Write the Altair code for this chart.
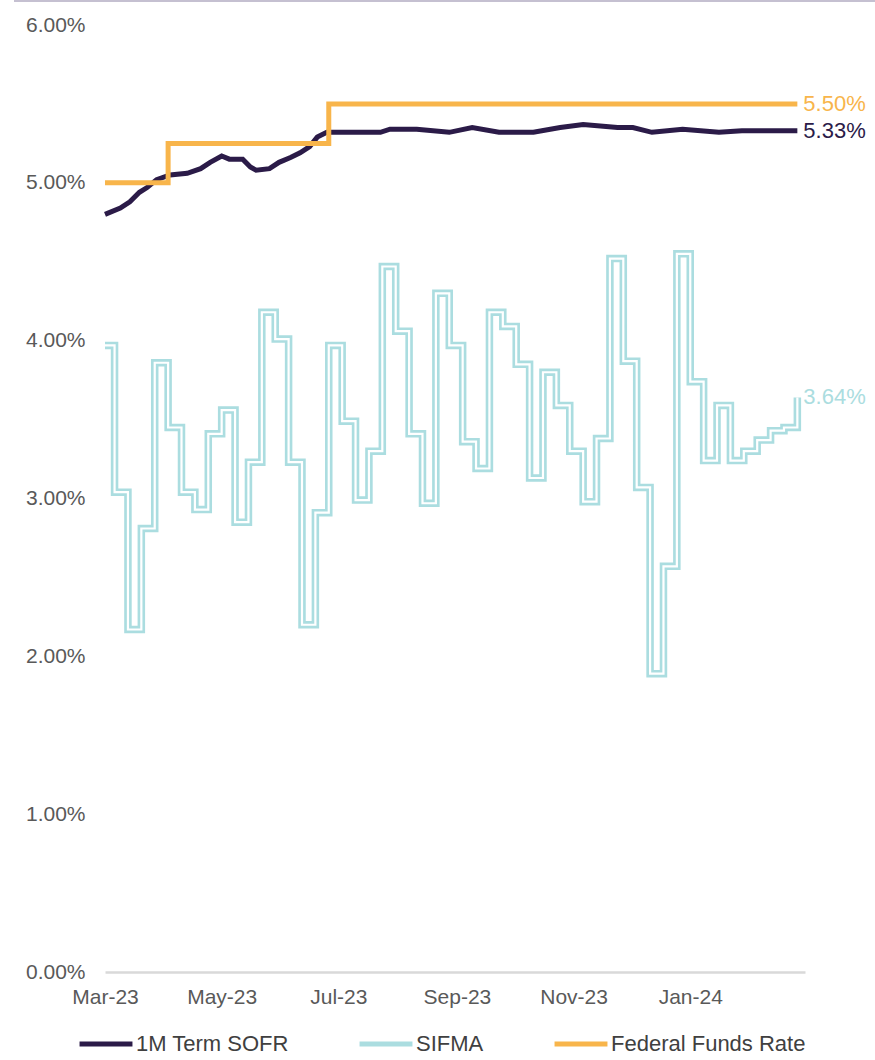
import altair as alt
import pandas as pd

# ---------------- data ----------------
series_names = ["1M Term SOFR", "SIFMA", "Federal Funds Rate"]
series_colors = ["#2b1b48", "#abdde0", "#f8b54b"]

sofr_dates = ["2023-03-01", "2023-03-09", "2023-03-14", "2023-03-19", "2023-03-23",
              "2023-03-28", "2023-04-04", "2023-04-13", "2023-04-20", "2023-04-25",
              "2023-05-01", "2023-05-05", "2023-05-12", "2023-05-16", "2023-05-19",
              "2023-05-26", "2023-05-31", "2023-06-06", "2023-06-11", "2023-06-16",
              "2023-06-20", "2023-06-25", "2023-07-03", "2023-07-14", "2023-07-23",
              "2023-07-28", "2023-08-11", "2023-08-28", "2023-09-09", "2023-09-23",
              "2023-10-11", "2023-10-25", "2023-11-06", "2023-11-24", "2023-12-02",
              "2023-12-12", "2023-12-28", "2024-01-16", "2024-01-28", "2024-02-10",
              "2024-02-26"]
sofr_values = [4.80, 4.84, 4.88, 4.94, 4.97,
               5.02, 5.05, 5.06, 5.09, 5.13,
               5.17, 5.15, 5.15, 5.10, 5.08,
               5.09, 5.13, 5.16, 5.19, 5.23,
               5.29, 5.32, 5.32, 5.32, 5.32,
               5.34, 5.34, 5.32, 5.35, 5.32,
               5.32, 5.35, 5.37, 5.35, 5.35,
               5.32, 5.34, 5.32, 5.33, 5.33,
               5.33]

sifma_dates = ["2023-03-01"] + [d.strftime("%Y-%m-%d") for d in
                                pd.date_range("2023-03-06", periods=52, freq="7D")]
sifma_values = [3.97, 3.04, 2.17, 2.81, 3.86, 3.45, 3.04, 2.93, 3.41, 3.56,
                2.85, 3.23, 4.18, 4.01, 3.23, 2.20, 2.91, 3.97, 3.49, 2.99,
                3.30, 4.47, 4.06, 3.41, 2.97, 4.30, 3.97, 3.36, 3.19, 4.18,
                4.09, 3.85, 3.13, 3.80, 3.59, 3.30, 2.98, 3.38, 4.52, 3.87,
                3.07, 1.89, 2.57, 4.55, 3.74, 3.24, 3.59, 3.24, 3.30, 3.37,
                3.43, 3.45, 3.64]

ffr_dates = ["2023-03-01", "2023-04-03", "2023-06-26", "2024-02-26"]
ffr_values = [5.00, 5.25, 5.50, 5.50]

y_ticks = [0, 1, 2, 3, 4, 5, 6]
x_tick_dates = [(2023, 3), (2023, 5), (2023, 7), (2023, 9), (2023, 11), (2024, 1)]

# ---------------- tables ----------------
sofr_df = pd.DataFrame({"date": sofr_dates, "value": sofr_values, "series": series_names[0]})
sifma_df = pd.DataFrame({"date": sifma_dates, "value": sifma_values, "series": series_names[1]})
ffr_df = pd.DataFrame({"date": ffr_dates, "value": ffr_values, "series": series_names[2]})

last_df = pd.DataFrame({
    "date": [sofr_dates[-1], sifma_dates[-1], ffr_dates[-1]],
    "value": [sofr_values[-1], sifma_values[-1], ffr_values[-1]],
    "series": series_names,
})
last_df["label"] = last_df["value"].map(lambda v: f"{v:.2f}%")

FONT = "Liberation Sans"
TXT = "#595959"

x_scale = alt.Scale(type="utc",
                    domain=[alt.DateTime(year=2023, month=3, date=1, utc=True),
                            alt.DateTime(year=2024, month=3, date=1, utc=True)])
y_scale = alt.Scale(domain=[0, 6], nice=False, zero=True)
color_scale = alt.Scale(domain=series_names, range=series_colors)

x_enc = alt.X("date:T", scale=x_scale,
              axis=alt.Axis(values=[alt.DateTime(year=y, month=m, date=1, utc=True)
                                    for y, m in x_tick_dates],
                            labelExpr="utcFormat(datum.value, '%b-%y')", title=None,
                            labelFlush=False, labelOverlap=False,
                            ticks=False, grid=False, domainColor="#d9d9d9",
                            domainWidth=2.5, labelPadding=14, labelFontSize=21,
                            labelFont=FONT, labelColor=TXT))
y_enc = alt.Y("value:Q", scale=y_scale,
              axis=alt.Axis(values=y_ticks, labelExpr="format(datum.value, '.2f') + '%'",
                            title=None, domain=False, ticks=False, grid=False,
                            labelPadding=20, labelFontSize=21, labelFont=FONT,
                            labelColor=TXT))
color_enc = alt.Color("series:N", scale=color_scale, sort=series_names,
                      legend=alt.Legend(title=None, orient="none", direction="horizontal",
                                        legendX=-28, legendY=990,
                                        symbolType="stroke", symbolSize=2800,
                                        symbolStrokeWidth=5, labelOffset=1,
                                        columnPadding=60, labelFontSize=22,
                                        labelFont=FONT, labelColor="#404040",
                                        labelLimit=400))

sofr_line = alt.Chart(sofr_df).mark_line(strokeWidth=5, interpolate="linear").encode(
    x=x_enc, y=y_enc, color=color_enc)
sifma_line = alt.Chart(sifma_df).mark_line(strokeWidth=7.5, interpolate="step-after").encode(
    x=x_enc, y=y_enc, color=color_enc)
sifma_inner = alt.Chart(sifma_df).mark_line(strokeWidth=2.2, interpolate="step-after",
                                            color="white").encode(x=x_enc, y=y_enc)
ffr_line = alt.Chart(ffr_df).mark_line(strokeWidth=5, interpolate="step-after").encode(
    x=x_enc, y=y_enc, color=color_enc)

end_labels = alt.Chart(last_df).mark_text(align="left", baseline="middle", dx=6,
                                          fontSize=22, font=FONT).encode(
    x=x_enc, y=y_enc, text="label:N",
    color=alt.Color("series:N", scale=color_scale, legend=None))

top_rule = alt.Chart(last_df).mark_rule(color="#c4bfd0", strokeWidth=1.5).encode(
    x=alt.value(-91), x2=alt.value(770), y=alt.value(-24))

chart = alt.layer(sifma_line, sifma_inner, sofr_line, ffr_line, end_labels, top_rule).properties(
    width=700, height=947,
    autosize=alt.AutoSizeParams(type="none"),
    padding={"left": 105, "top": 25, "right": 70, "bottom": 88},
).configure_view(stroke=None)

chart.save("out.html", embed_options={"renderer": "svg", "actions": False})
